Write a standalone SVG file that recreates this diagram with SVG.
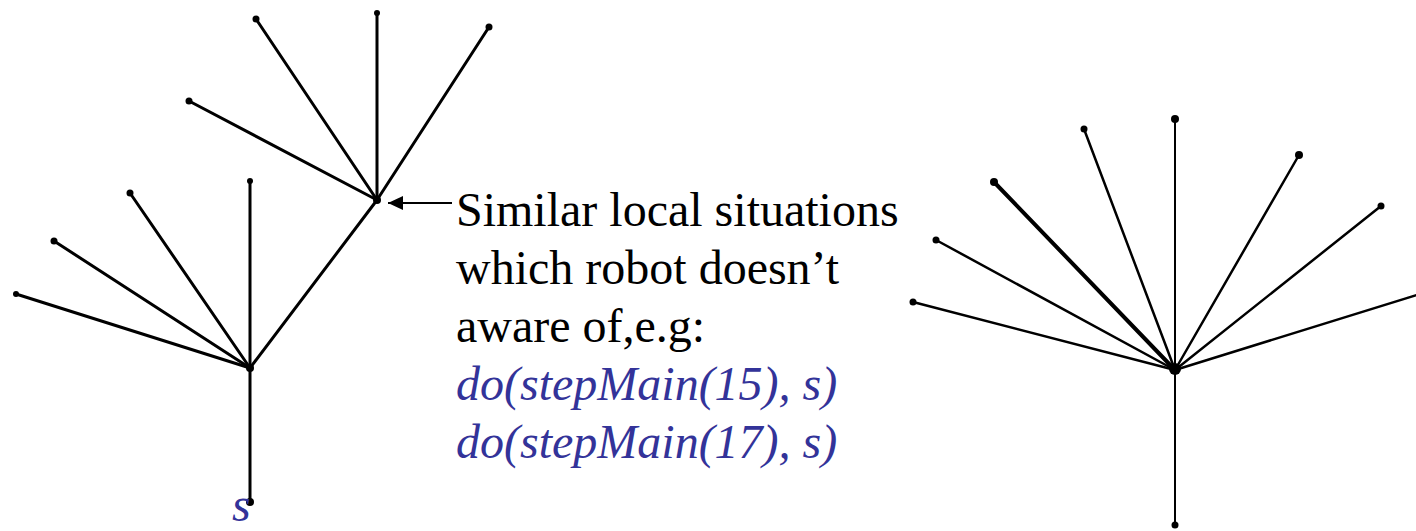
<svg xmlns="http://www.w3.org/2000/svg" width="1416" height="531" viewBox="0 0 1416 531">
<style>
.e{stroke:#000;stroke-width:3;fill:none;stroke-linecap:round}
.t{stroke-width:2.5}
.th{stroke-width:4}
.v{stroke-width:2}
.d{fill:#000}
.txt{font-family:'Liberation Serif','DejaVu Serif',serif;font-size:48px;fill:#000}
.it{font-style:italic;fill:#333399}
</style>
<defs>
<marker id="ah" markerWidth="15" markerHeight="14" refX="15" refY="7" orient="auto" markerUnits="userSpaceOnUse">
<path d="M0,0 L15,7 L0,14 Z" fill="#000"/>
</marker>
</defs>
<rect width="1416" height="531" fill="#fff"/>
<g id="connectors">
<g id="left-tree-edges">
<line class="e" x1="250" y1="368" x2="250" y2="502"/>
<line class="e" x1="250" y1="368" x2="250" y2="181"/>
<line class="e" x1="250" y1="368" x2="130" y2="193"/>
<line class="e" x1="250" y1="368" x2="54" y2="241"/>
<line class="e" x1="250" y1="368" x2="16" y2="294"/>
<line class="e" x1="250" y1="368" x2="377" y2="200"/>
<line class="e" x1="377" y1="200" x2="377" y2="13"/>
<line class="e" x1="377" y1="200" x2="256" y2="19"/>
<line class="e" x1="377" y1="200" x2="489" y2="27"/>
<line class="e" x1="377" y1="200" x2="189" y2="101"/>
</g>
<g id="right-tree-edges">
<line class="e v" x1="1175" y1="370" x2="1175" y2="525"/>
<line class="e v" x1="1175" y1="370" x2="1175" y2="119"/>
<line class="e t" x1="1175" y1="370" x2="1084" y2="129"/>
<line class="e t" x1="1175" y1="370" x2="1299" y2="155"/>
<line class="e th" x1="1175" y1="370" x2="994" y2="182"/>
<line class="e t" x1="1175" y1="370" x2="1381" y2="206"/>
<line class="e t" x1="1175" y1="370" x2="936" y2="240"/>
<line class="e t" x1="1175" y1="370" x2="913" y2="302"/>
<line class="e t" x1="1175" y1="370" x2="1420" y2="294"/>
</g>
<line id="pointer" stroke="#000" stroke-width="2" x1="452" y1="203" x2="388" y2="203" marker-end="url(#ah)"/>
</g>
<g id="node-left-root"><circle class="d" cx="250" cy="368" r="4"/></g>
<g id="node-left-bottom"><circle class="d" cx="250" cy="502" r="4"/></g>
<g id="node-left-leaves">
<circle class="d" cx="250" cy="181" r="3"/>
<circle class="d" cx="130" cy="193" r="3.5"/>
<circle class="d" cx="54" cy="241" r="3.5"/>
<circle class="d" cx="16" cy="294" r="3"/>
</g>
<g id="node-upper"><circle class="d" cx="377" cy="200" r="4"/></g>
<g id="node-upper-leaves">
<circle class="d" cx="377" cy="13" r="3"/>
<circle class="d" cx="256" cy="19" r="3.5"/>
<circle class="d" cx="489" cy="27" r="3.5"/>
<circle class="d" cx="189" cy="101" r="3.5"/>
</g>
<g id="node-right-root"><circle class="d" cx="1175" cy="369" r="6"/></g>
<g id="node-right-leaves">
<circle class="d" cx="1175" cy="525" r="3.5"/>
<circle class="d" cx="1175" cy="119" r="4"/>
<circle class="d" cx="1084" cy="129" r="3.5"/>
<circle class="d" cx="1299" cy="155" r="4"/>
<circle class="d" cx="994" cy="182" r="4"/>
<circle class="d" cx="1381" cy="206" r="3.5"/>
<circle class="d" cx="936" cy="240" r="3.5"/>
<circle class="d" cx="913" cy="302" r="3.5"/>
</g>
<g id="label-s"><text class="txt it" x="232" y="521" font-size="42">s</text></g>
<g id="annotation">
<text class="txt" x="456" y="226">Similar local situations</text>
<text class="txt" x="456" y="284">which robot doesn’t</text>
<text class="txt" x="456" y="342">aware of,e.g:</text>
<text class="txt it" x="456" y="400">do(stepMain(15), s)</text>
<text class="txt it" x="456" y="458">do(stepMain(17), s)</text>
</g>
</svg>
